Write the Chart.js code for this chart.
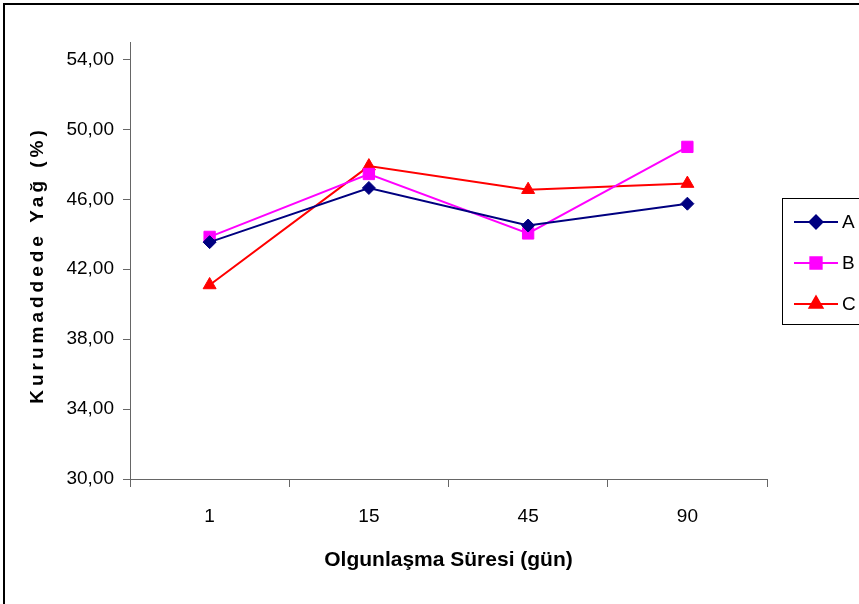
<!DOCTYPE html>
<html>
<head>
<meta charset="utf-8">
<script src="https://cdn.jsdelivr.net/npm/chart.js@4/dist/chart.umd.min.js"></script>
<style>
  html, body { margin: 0; padding: 0; background: #fff; }
  #wrap { position: relative; width: 859px; height: 604px; overflow: hidden; }
  #frame { position: absolute; left: 3px; top: 3px; width: 1000px; height: 1000px; border: 2px solid #000; box-sizing: border-box; }
  canvas { position: absolute; left: 0; top: 0; }
</style>
</head>
<body>
<div id="wrap">
  <div id="frame"></div>
  <canvas id="c" width="859" height="604"></canvas>
</div>
<script>
// Ripening time (days) and dry-matter fat (%) for three cheese groups
const categories = ['1', '15', '45', '90'];
const seriesA = [43.55, 46.65, 44.50, 45.75];
const seriesB = [43.85, 47.45, 44.05, 49.00];
const seriesC = [41.10, 47.90, 46.55, 46.90];
const seriesNames = ['A', 'B', 'C'];
const yTickValues = [30, 34, 38, 42, 46, 50, 54];
const xTitle = 'Olgunlaşma Süresi (gün)';
const yTitle = 'Kurumaddede Yağ (%)';

const FONT = "'Liberation Sans', Arial, sans-serif";
const AXIS_COLOR = '#666';

const styles = [
  { color: '#000080', pointStyle: 'rectRot', radius: 6.5 },
  { color: '#FF00FF', pointStyle: 'rect', radius: 8 },
  { color: '#FF0000', pointStyle: 'triangle', radius: 7.5 }
];

const datasets = [seriesA, seriesB, seriesC].map((vals, i) => ({
  label: seriesNames[i],
  data: vals,
  borderColor: styles[i].color,
  backgroundColor: styles[i].color,
  pointStyle: styles[i].pointStyle,
  pointRadius: styles[i].radius,
  pointHoverRadius: styles[i].radius,
  pointBorderWidth: 1,
  borderWidth: 2,
  tension: 0,
  fill: false
}));

// Axis titles and the boxed legend with line + marker samples
const decorations = {
  id: 'decorations',
  afterDraw(chart) {
    const ctx = chart.ctx;
    const area = chart.chartArea;
    ctx.save();
    ctx.fillStyle = '#000';

    // y title, rotated, with wide letter spacing
    ctx.save();
    ctx.translate(38, 267);
    ctx.rotate(-Math.PI / 2);
    ctx.font = 'bold 19px ' + FONT;
    ctx.letterSpacing = '4px';
    ctx.textAlign = 'center';
    ctx.textBaseline = 'middle';
    ctx.fillText(yTitle, 2, 0);
    ctx.restore();

    // x title
    ctx.font = 'bold 21px ' + FONT;
    ctx.textAlign = 'center';
    ctx.textBaseline = 'middle';
    ctx.fillText(xTitle, (area.left + area.right) / 2, 560);

    // legend box
    ctx.strokeStyle = '#000';
    ctx.lineWidth = 1;
    ctx.strokeRect(782.5, 198.5, 200, 126);
    chart.data.datasets.forEach((ds, i) => {
      const y = 222 + i * 41;
      ctx.strokeStyle = ds.borderColor;
      ctx.lineWidth = 2;
      ctx.beginPath();
      ctx.moveTo(794, y);
      ctx.lineTo(838, y);
      ctx.stroke();
      ctx.fillStyle = ds.backgroundColor;
      Chart.helpers.drawPoint(ctx, {
        pointStyle: ds.pointStyle,
        radius: ds.pointRadius,
        rotation: 0,
        borderWidth: 1
      }, 816, y);
      ctx.fillStyle = '#000';
      ctx.font = '19px ' + FONT;
      ctx.textAlign = 'left';
      ctx.textBaseline = 'middle';
      ctx.fillText(ds.label, 842, y + 1);
    });
    ctx.restore();
  }
};

new Chart(document.getElementById('c'), {
  type: 'line',
  data: { labels: categories, datasets },
  options: {
    responsive: false,
    animation: false,
    events: [],
    layout: { padding: { left: 0, right: 92, top: 42, bottom: 0 } },
    plugins: { legend: { display: false }, tooltip: { enabled: false } },
    scales: {
      x: {
        offset: true,
        grid: { offset: true, drawOnChartArea: false, tickLength: 8, color: AXIS_COLOR },
        border: { color: AXIS_COLOR, width: 1 },
        ticks: { color: '#000', font: { family: FONT, size: 19 }, padding: 18, maxRotation: 0 },
        afterFit(scale) { scale.height = 125; }
      },
      y: {
        min: 30,
        max: 55,
        afterBuildTicks(scale) { scale.ticks = yTickValues.map(v => ({ value: v })); },
        grid: { drawOnChartArea: false, tickLength: 7, color: AXIS_COLOR },
        border: { color: AXIS_COLOR, width: 1 },
        ticks: {
          color: '#000',
          font: { family: FONT, size: 19 },
          padding: 9,
          callback: v => Number(v).toFixed(2).replace('.', ',')
        },
        afterFit(scale) { scale.width = 130; }
      }
    }
  },
  plugins: [decorations]
});
</script>
</body>
</html>
